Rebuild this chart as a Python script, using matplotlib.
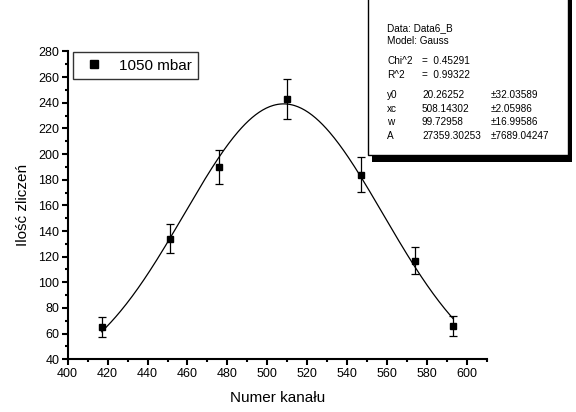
import numpy as np
import matplotlib
matplotlib.use("Agg")
import matplotlib.pyplot as plt
from matplotlib.patches import Rectangle
from matplotlib.lines import Line2D
from matplotlib.ticker import MultipleLocator

plt.rcParams['font.family'] = ['Liberation Sans', 'DejaVu Sans']

# pomiary dla 1050 mbar
kanal = [417, 451, 476, 510, 547, 574, 593]
zliczenia = [65, 134, 190, 243, 184, 117, 66]
bledy = [8, 11.5, 13.5, 15.5, 13.5, 10.5, 8]

# parametry dopasowania Gaussa
y0, xc, w, A = 20.26252, 508.14302, 99.72958, 27359.30253
chi2, r2 = 0.45291, 0.99322
err = [32.03589, 2.05986, 16.99586, 7689.04247]

def gauss(x):
    return y0 + A / (w * np.sqrt(np.pi / 2)) * np.exp(-2 * ((x - xc) / w) ** 2)

fig = plt.figure(figsize=(5.76, 4.12), dpi=100)
ax = fig.add_axes([0.1175, 0.128, 0.728, 0.747])

xs = np.linspace(min(kanal), max(kanal), 300)
ax.plot(xs, gauss(xs), color='black', lw=0.9)
ax.errorbar(kanal, zliczenia, yerr=bledy, fmt='s', color='black', ms=5,
            ecolor='black', elinewidth=0.9, capsize=3, capthick=0.9)

ax.set_xlim(400, 610)
ax.set_ylim(40, 280)
ax.xaxis.set_minor_locator(MultipleLocator(10))
ax.yaxis.set_major_locator(MultipleLocator(20))
ax.yaxis.set_minor_locator(MultipleLocator(10))
ax.set_xticks(np.arange(400, 601, 20))
for s in ['top', 'right']:
    ax.spines[s].set_visible(False)
for s in ['left', 'bottom']:
    ax.spines[s].set_linewidth(1.5)
ax.tick_params(which='major', direction='out', length=4, width=1.5, labelsize=9, pad=2)
ax.tick_params(which='minor', direction='out', length=2.5, width=1.5)
ax.set_xlabel('Numer kanału', fontsize=11, labelpad=8)
ax.set_ylabel('Ilość zliczeń', fontsize=11, labelpad=6)

znacznik = Line2D([], [], marker='s', ls='none', color='black', ms=6)
leg = ax.legend([znacznik], ['1050 mbar'], loc='upper left',
                bbox_to_anchor=(0.012, 0.997), fontsize=11,
                frameon=True, fancybox=False, edgecolor='black',
                handletextpad=0.6, borderpad=0.4, handlelength=2.0,
                borderaxespad=0)
leg.get_frame().set_linewidth(1.0)

# ramka z wynikami dopasowania
H = 412
fig.patches.append(Rectangle((372, H - 162), 200, 165, transform=None,
                             facecolor='black', edgecolor='none'))
fig.patches.append(Rectangle((367.5, H - 155), 200, 160, transform=None,
                             facecolor='white', edgecolor='black', lw=1.0))

fs = 7.2
def txt(x, y, s):
    fig.text(x / 576, 1 - y / H, s, fontsize=fs, va='center', ha='left')

txt(387, 28, 'Data: Data6_B')
txt(387, 41, 'Model: Gauss')
txt(387, 61, 'Chi^2')
txt(422, 61, '=  %.5f' % chi2)
txt(387, 75, 'R^2')
txt(422, 75, '=  %.5f' % r2)
rows = [('y0', '%.5f' % y0), ('xc', '%.5f' % xc), ('w', '%.5f' % w), ('A', '%.5f' % A)]
for i, (n, v) in enumerate(rows):
    yy = 95 + i * 13.7
    txt(387, yy, n)
    txt(422, yy, v)
    txt(491, yy, '±%.5f' % err[i])

fig.savefig('out.png', dpi=100)
